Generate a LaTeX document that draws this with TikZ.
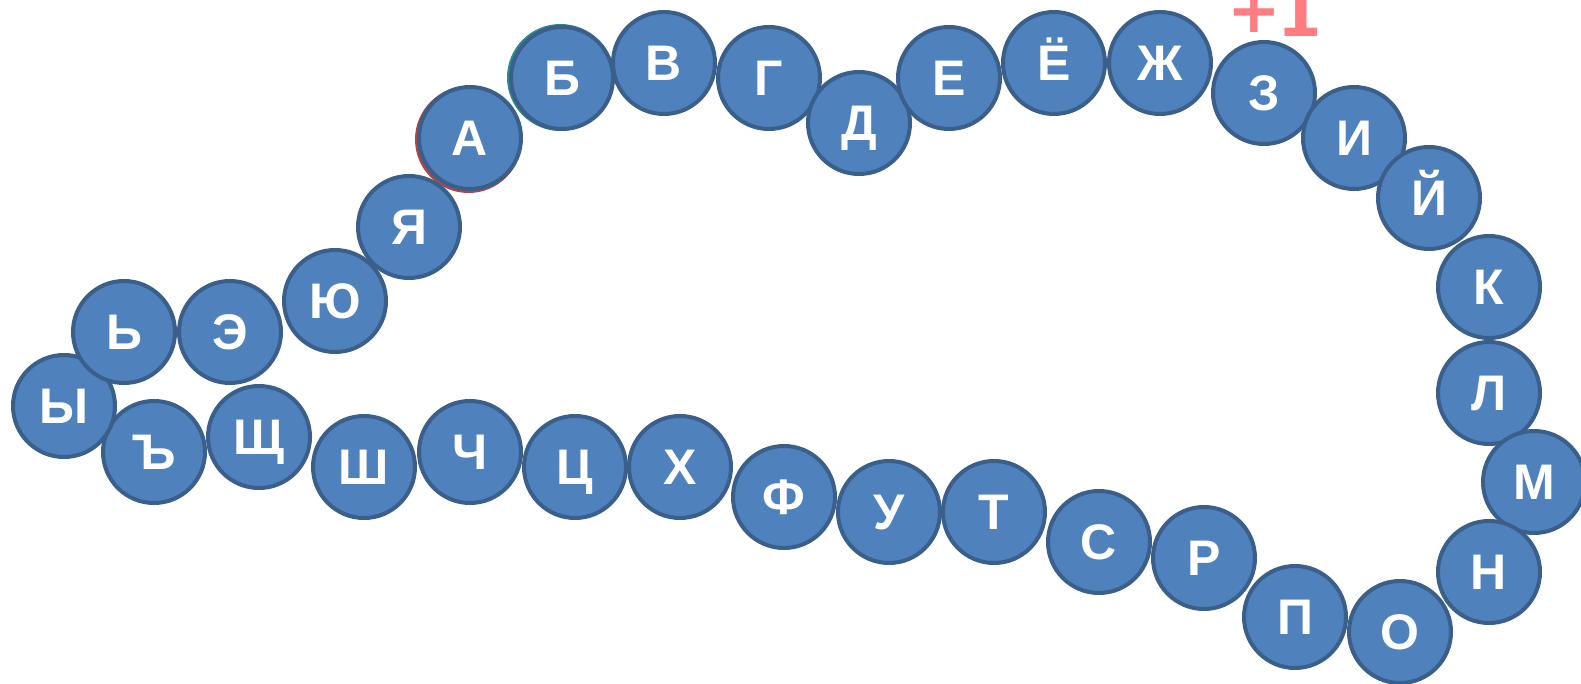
\documentclass[tikz,border=0pt]{standalone}
\usepackage{fontspec}
\setmainfont{Liberation Sans}
\newfontfamily\plusfont{DejaVu Sans}
\definecolor{cfill}{HTML}{4F81BD}
\definecolor{cdraw}{HTML}{3A5F8B}
\definecolor{plusred}{HTML}{FF7C80}
\definecolor{glowred}{HTML}{A84848}
\definecolor{glowteal}{HTML}{2E8A8A}
\begin{document}
\begin{tikzpicture}[x=0.5pt,y=-0.5pt,
 bead/.style={circle,fill=cfill,draw=cdraw,line width=2pt,minimum size=51pt,inner sep=0pt,
   text=white,text height=17.5pt,text depth=0pt,
   font=\fontsize{25}{25}\selectfont\bfseries}]
\useasboundingbox (0,0) rectangle (1581,684);
\clip (0,0) rectangle (1581,684);
% faint glow edges
\fill[glowred] (468.5,139.5) circle (53.5);
\fill[glowteal] (560.5,77.5) circle (53.5);
\node[bead] (a)   at (470,138) {А};
\node[bead] (b)   at (562,78)  {Б};
\node[bead] (v)   at (664,63)  {В};
\node[bead] (g)   at (769,78)  {Г};
\node[bead] (d)   at (859,123) {Д};
\node[bead] (e)   at (949,78)  {Е};
\node[bead] (yo)  at (1054,63) {Ё};
\node[bead] (zh)  at (1160,63) {Ж};
\node[bead] (z)   at (1264,93) {З};
\node[bead] (i)   at (1354,138) {И};
\node[bead] (j)   at (1429,198) {Й};
\node[bead] (k)   at (1489,287) {К};
\node[bead] (l)   at (1489,393) {Л};
\node[bead] (m)   at (1534,482) {М};
\node[bead] (n)   at (1489,572) {Н};
\node[bead] (o)   at (1400,632) {О};
\node[bead] (p)   at (1295,617) {П};
\node[bead] (r)   at (1204,558) {Р};
\node[bead] (s)   at (1099,542) {С};
\node[bead] (t)   at (994,512)  {Т};
\node[bead] (u)   at (889,512)  {У};
\node[bead] (f)   at (784,497)  {Ф};
\node[bead] (h)   at (680,467)  {Х};
\node[bead] (c)   at (575,467)  {Ц};
\node[bead] (ch)  at (470,452)  {Ч};
\node[bead] (sh)  at (364,467)  {Ш};
\node[bead] (tv)  at (154,452)  {Ъ};
\node[bead] (sch) at (259,437)  {Щ};
\node[bead] (y)   at (64,406)   {Ы};
\node[bead] (mz)  at (124,332)  {Ь};
\node[bead] (ee)  at (230,332)  {Э};
\node[bead] (yu)  at (335,301)  {Ю};
\node[bead] (ya)  at (409,227)  {Я};
\node[anchor=base,text=plusred,inner sep=0pt,font=\plusfont\fontsize{32}{32}\selectfont\bfseries] (plus) at (1275,37) {\raisebox{2pt}{+}\kern-2pt 1};
\end{tikzpicture}
\end{document}
